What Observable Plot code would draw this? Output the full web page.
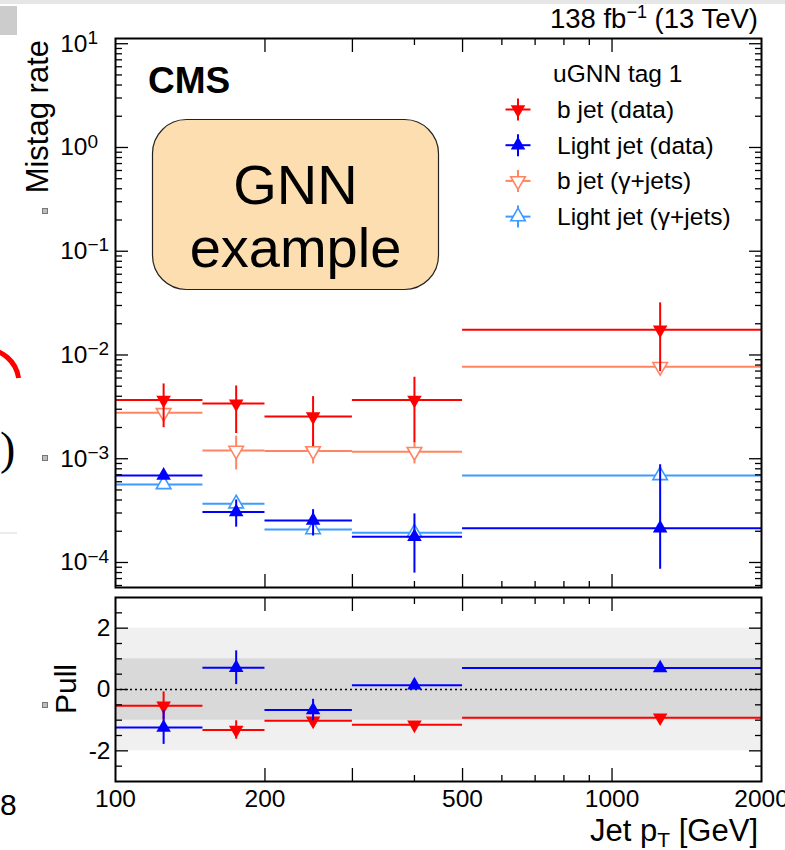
<!DOCTYPE html>
<html><head><meta charset="utf-8">
<script src="https://cdn.jsdelivr.net/npm/d3@7"></script>
<script src="https://cdn.jsdelivr.net/npm/@observablehq/plot@0.6"></script>
<style>
html,body{margin:0;padding:0;background:#fff;}
#page{position:relative;width:785px;height:850px;overflow:hidden;font-family:"Liberation Sans",Arial,Helvetica,sans-serif;}
#top,#pull{position:absolute;left:0;}
#top{top:0}
#pull{top:590px}
#ann{position:absolute;left:0;top:0;pointer-events:none}
</style></head><body>
<div id="page"><div id="top"></div><div id="pull"></div><svg id="ann" width="785" height="850"></svg></div>
<script>
// ---------------- data ----------------
const binEdges   = [100, 150, 200, 300, 500, 2000];
const binCenters = [125, 175, 250, 400, 1250];

// b jet (data)
const bData    = [3.69e-3, 3.40e-3, 2.55e-3, 3.69e-3, 1.75e-2];
const bDataLo  = [1.99e-3, 1.75e-3, 1.31e-3, 1.43e-3, 6.9e-3];
const bDataHi  = [5.26e-3, 5.03e-3, 3.97e-3, 6.1e-3, 3.18e-2];
// light jet (data)
const lData    = [6.9e-4, 3.07e-4, 2.54e-4, 1.77e-4, 2.14e-4];
const lDataLo  = [6.3e-4, 2.19e-4, 1.8e-4, 7.9e-5, 8.6e-5];
const lDataHi  = [7.6e-4, 4.0e-4, 3.23e-4, 2.94e-4, 8.75e-4];
// b jet (gamma+jets)
const bGj      = [2.77e-3, 1.20e-3, 1.19e-3, 1.17e-3, 7.7e-3];
const bGjLo    = [2.5e-3, 7.8e-4, 8.9e-4, 8.9e-4, 7.0e-3];
const bGjHi    = [3.05e-3, 1.65e-3, 1.45e-3, 1.45e-3, 8.4e-3];
// light jet (gamma+jets)
const lGj      = [5.66e-4, 3.69e-4, 2.08e-4, 1.93e-4, 6.9e-4];
const lGjLo    = [5.3e-4, 3.4e-4, 1.95e-4, 1.8e-4, 6.5e-4];
const lGjHi    = [6.0e-4, 4.1e-4, 2.2e-4, 2.05e-4, 7.3e-4];

// pulls
const pullB    = [-0.53, -1.32, -1.02, -1.15, -0.92];
const pullBErr = [0.45, 0.3, 0.22, 0.08, 0.05];
const pullL    = [-1.24, 0.71, -0.67, 0.14, 0.70];
const pullLErr = [0.55, 0.55, 0.35, 0.08, 0.05];

// axes / ticks
const xDomain     = [100, 2000];
const yDomain     = [5.74e-5, 11.23];
const pullDomain  = [-3, 3];
const xMajorTicks = [200, 300, 500, 1000];
const xMinorTicks = [400, 600, 700, 800, 900];
const xTickLabels = [100, 200, 500, 1000, 2000];
const yExponents  = [-4, -3, -2, -1, 0, 1];
const pullMajor   = [-2, 0, 2];
const pullMinor   = [-2.5, -1.5, -1, -0.5, 0.5, 1, 1.5, 2.5];
const bands       = [[-2, 2], [-1, 1]];

const legendLabels = ["b jet (data)", "Light jet (data)", "b jet (\u03b3+jets)", "Light jet (\u03b3+jets)"];

// ---------------- styles ----------------
const FONT = '"Liberation Sans", Arial, Helvetica, sans-serif';
const RED = "#ff0000", BLUE = "#0000ff", ORANGE = "#ff8462", LBLUE = "#3d9bff";
const MR = 5.4;

const yMajor = yExponents.map(e => Math.pow(10, e));
const yMinor = [];
for (const e of [-5, ...yExponents]) for (let k = 2; k <= 9; k++) {
  const v = k * Math.pow(10, e);
  if (v > yDomain[0] && v < yDomain[1]) yMinor.push(v);
}

function rows(vals, lo, hi) {
  return vals.map((v, i) => ({c: binCenters[i], x1: binEdges[i], x2: binEdges[i + 1], v, lo: lo[i], hi: hi[i]}));
}
function pullRows(vals, err) {
  return vals.map((v, i) => ({c: binCenters[i], x1: binEdges[i], x2: binEdges[i + 1], v, lo: v - err[i], hi: v + err[i]}));
}
function series(data, color, filled, down) {
  return [
    Plot.ruleY(data, {y: "v", x1: "x1", x2: "x2", stroke: color, strokeWidth: 2}),
    Plot.ruleX(data, {x: "c", y1: "lo", y2: "hi", stroke: color, strokeWidth: 2}),
    Plot.dot(data, {x: "c", y: "v", symbol: "triangle", r: MR, rotate: down ? 180 : 0,
      fill: filled ? color : "white", stroke: filled ? "none" : color, strokeWidth: 1.6})
  ];
}
const none = () => "";
function xTicks(anchor) {
  const s = anchor === "bottom" ? -1 : 1;
  return [
    Plot.axisX(xMajorTicks, {anchor, tickSize: 13, dy: s * 13, tickFormat: none, label: null, strokeWidth: 1.3}),
    Plot.axisX(xMinorTicks, {anchor, tickSize: 6, dy: s * 6, tickFormat: none, label: null, strokeWidth: 1.3})
  ];
}
function yTicks(anchor, major, minor) {
  const s = anchor === "left" ? 1 : -1;
  return [
    Plot.axisY(major, {anchor, tickSize: 13, dx: s * 13, tickFormat: none, label: null, strokeWidth: 1.3}),
    Plot.axisY(minor, {anchor, tickSize: 7, dx: s * 7, tickFormat: none, label: null, strokeWidth: 1.3})
  ];
}

// ---------------- top panel ----------------
const topPlot = Plot.plot({
  width: 785, height: 590,
  marginLeft: 115, marginRight: 24, marginTop: 38, marginBottom: 3,
  x: {type: "log", domain: xDomain},
  y: {type: "log", domain: yDomain},
  style: {fontFamily: FONT, color: "#000", background: "transparent", overflow: "visible"},
  marks: [
    ...series(rows(bGj, bGjLo, bGjHi), ORANGE, false, true),
    ...series(rows(lGj, lGjLo, lGjHi), LBLUE, false, false),
    ...series(rows(bData, bDataLo, bDataHi), RED, true, true),
    ...series(rows(lData, lDataLo, lDataHi), BLUE, true, false),
    Plot.frame({stroke: "#000", strokeWidth: 2}),
    ...xTicks("bottom"), ...xTicks("top"),
    ...yTicks("left", yMajor, yMinor), ...yTicks("right", yMajor, yMinor),
    Plot.axisY(yMajor, {anchor: "left", tickSize: 0, tickPadding: 28, fontSize: 24.5, tickFormat: () => "10", label: null}),
    Plot.axisY(yMajor, {anchor: "left", tickSize: 0, tickPadding: 28, textAnchor: "start", fontSize: 19, dy: -6,
      tickFormat: d => { const e = Math.round(Math.log10(d)); return e < 0 ? "\u2212" + (-e) : String(e); }, label: null})
  ]
});
document.getElementById("top").appendChild(topPlot);

// ---------------- pull panel ----------------
const pullPlot = Plot.plot({
  width: 785, height: 260,
  marginLeft: 115, marginRight: 24, marginTop: 7, marginBottom: 69,
  x: {type: "log", domain: xDomain},
  y: {domain: pullDomain},
  style: {fontFamily: FONT, color: "#000", background: "transparent", overflow: "visible"},
  marks: [
    Plot.rect([bands[0]], {x1: () => xDomain[0], x2: () => xDomain[1], y1: d => d[0], y2: d => d[1], fill: "#f0f0f0"}),
    Plot.rect([bands[1]], {x1: () => xDomain[0], x2: () => xDomain[1], y1: d => d[0], y2: d => d[1], fill: "#d9d9d9"}),
    Plot.ruleY([0], {stroke: "#000", strokeWidth: 1.6, strokeDasharray: "2,3"}),
    ...series(pullRows(pullB, pullBErr), RED, true, true),
    ...series(pullRows(pullL, pullLErr), BLUE, true, false),
    Plot.frame({stroke: "#000", strokeWidth: 2}),
    ...xTicks("bottom"), ...xTicks("top"),
    ...yTicks("left", pullMajor, pullMinor), ...yTicks("right", pullMajor, pullMinor),
    Plot.axisY(pullMajor, {anchor: "left", tickSize: 0, tickPadding: 5, fontSize: 24.5, tickFormat: d => String(d), label: null}),
    Plot.axisX(xTickLabels, {anchor: "bottom", tickSize: 0, tickPadding: 8, fontSize: 24.5, tickFormat: d => String(d), label: null})
  ]
});
document.getElementById("pull").appendChild(pullPlot);

// ---------------- annotations ----------------
const ann = d3.select("#ann").style("font-family", FONT);
// stray background fragments
ann.append("rect").attr("x", 0).attr("y", 0).attr("width", 785).attr("height", 4).attr("fill", "#e6e6e6");
ann.append("rect").attr("x", 0).attr("y", 6).attr("width", 17).attr("height", 29).attr("fill", "#cccccc");
ann.append("path").attr("d", "M -15 349 A 34 34 0 0 1 18.6 378").attr("fill", "none").attr("stroke", "#ff0000").attr("stroke-width", 5);
ann.append("text").attr("x", 0).attr("y", 464).attr("font-family", '"Liberation Serif", serif').attr("font-size", 46).text(")");
ann.append("rect").attr("x", 0).attr("y", 532).attr("width", 17).attr("height", 2).attr("fill", "#ececec");
ann.append("text").attr("x", 0).attr("y", 815).attr("font-size", 30).text("8");
for (const y of [208, 455, 702]) {
  ann.append("rect").attr("x", 42.5).attr("y", y + 0.5).attr("width", 5).attr("height", 5).attr("fill", "#bdbdbd").attr("stroke", "#777").attr("stroke-width", 1);
}

// titles
const lumi = ann.append("text").attr("x", 758).attr("y", 28).attr("text-anchor", "end").attr("font-size", 27.5);
lumi.append("tspan").text("138 fb");
lumi.append("tspan").attr("dy", -10).attr("font-size", 18).text("\u22121");
lumi.append("tspan").attr("dy", 10).text(" (13 TeV)");

ann.append("text").attr("x", 148).attr("y", 93).attr("font-size", 37).attr("font-weight", "bold").text("CMS");

ann.append("text").attr("transform", "translate(48,40) rotate(-90)").attr("text-anchor", "end").attr("font-size", 31).text("Mistag rate");
ann.append("text").attr("transform", "translate(76,689) rotate(-90)").attr("text-anchor", "middle").attr("font-size", 30).text("Pull");

const xt = ann.append("text").attr("x", 758).attr("y", 841).attr("text-anchor", "end").attr("font-size", 31);
xt.append("tspan").text("Jet p");
xt.append("tspan").attr("dy", 6).attr("font-size", 21).text("T");
xt.append("tspan").attr("dy", -6).text(" [GeV]");

// legend
ann.append("text").attr("x", 553).attr("y", 82).attr("font-size", 24.5).text("uGNN tag 1");
const legColors = [RED, BLUE, ORANGE, LBLUE];
const legFilled = [true, true, false, false];
const legDown = [true, false, true, false];
const tri = d3.symbol(d3.symbolTriangle, MR * MR * Math.PI)();
legendLabels.forEach((lab, i) => {
  const by = 118 + i * 35.7, cy = by - 8.5, cx = 518;
  const g = ann.append("g");
  g.append("line").attr("x1", cx - 12.5).attr("x2", cx + 12.5).attr("y1", cy).attr("y2", cy).attr("stroke", legColors[i]).attr("stroke-width", 2);
  g.append("line").attr("x1", cx).attr("x2", cx).attr("y1", cy - 11).attr("y2", cy + 11).attr("stroke", legColors[i]).attr("stroke-width", 2);
  g.append("path").attr("d", tri).attr("transform", `translate(${cx},${cy}) rotate(${legDown[i] ? 180 : 0})`)
    .attr("fill", legFilled[i] ? legColors[i] : "white").attr("stroke", legFilled[i] ? "none" : legColors[i]).attr("stroke-width", 1.6);
  ann.append("text").attr("x", 557).attr("y", by).attr("font-size", 24.5).text(lab);
});

// GNN example box
ann.append("rect").attr("x", 152.5).attr("y", 119.5).attr("width", 286).attr("height", 170).attr("rx", 34)
  .attr("fill", "#fddeb0").attr("stroke", "#222").attr("stroke-width", 1.2);
ann.append("text").attr("x", 295.5).attr("y", 204).attr("text-anchor", "middle").attr("font-size", 56).text("GNN");
ann.append("text").attr("x", 295.5).attr("y", 267).attr("text-anchor", "middle").attr("font-size", 56).text("example");
</script>
</body></html>
